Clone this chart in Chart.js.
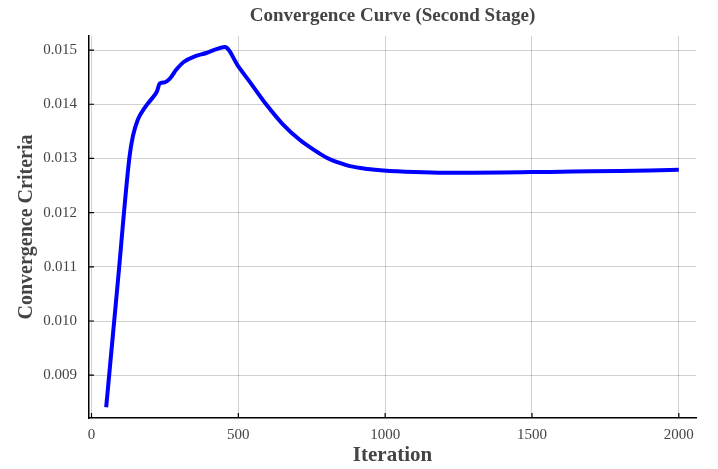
<!DOCTYPE html>
<html>
<head>
<meta charset="utf-8">
<script src="https://cdn.jsdelivr.net/npm/chart.js@4/dist/chart.umd.min.js"></script>
<style>
  html, body { margin: 0; padding: 0; background: #fff; }
  #wrap { width: 718px; height: 469px; }
</style>
</head>
<body>
<div id="wrap"><canvas id="grafico"></canvas></div>
<script>
// dados
const iteracoes = [50, 90, 129, 141, 158, 181, 203, 223, 232, 249, 266, 289, 314, 352, 391, 420, 454,
  500, 550, 596, 650, 710, 760, 801, 840, 880, 940, 994, 1100, 1200, 1300, 1400, 1500, 1600, 1700, 1800, 1900, 2000];
const criterio = [0.008409, 0.010740, 0.013013, 0.013411, 0.013718, 0.013934, 0.014087, 0.014239,
  0.014381, 0.014405, 0.014468, 0.014640, 0.014780, 0.014884, 0.014946, 0.015007, 0.015057,
  0.014700, 0.014331, 0.013990, 0.013640, 0.013340, 0.013150, 0.013013, 0.012926, 0.012858, 0.012807, 0.012779,
  0.012750, 0.012737, 0.012737, 0.012740, 0.012748, 0.012755, 0.012762, 0.012770, 0.012780, 0.012792];
const ticksX = [0, 500, 1000, 1500, 2000];
const ticksY = [0.009, 0.010, 0.011, 0.012, 0.013, 0.014, 0.015];

const titulo = "Convergence Curve (Second Stage)";
const fonte = "'Liberation Serif', 'Times New Roman', serif";
const cinza = "#444";

// título centrado na área do gráfico + marcas de escala para dentro
const extras = {
  id: "extras",
  afterDraw(chart) {
    const { ctx, chartArea: a, scales: { x, y } } = chart;
    ctx.save();
    ctx.fillStyle = cinza;
    ctx.font = `bold 19px ${fonte}`;
    ctx.textAlign = "center";
    ctx.textBaseline = "middle";
    ctx.fillText(titulo, (a.left + a.right) / 2, 16);
    ctx.strokeStyle = "#000";
    ctx.lineWidth = 1.2;
    ctx.beginPath();
    ticksX.forEach(v => { const p = x.getPixelForValue(v); ctx.moveTo(p, a.bottom); ctx.lineTo(p, a.bottom - 5); });
    ticksY.forEach(v => { const p = y.getPixelForValue(v); ctx.moveTo(a.left, p); ctx.lineTo(a.left + 5, p); });
    ctx.stroke();
    ctx.restore();
  }
};

new Chart(document.getElementById("grafico"), {
  type: "line",
  data: {
    datasets: [{
      data: iteracoes.map((it, i) => ({ x: it, y: criterio[i] })),
      borderColor: "#0000ff",
      borderWidth: 4,
      pointRadius: 0,
      cubicInterpolationMode: "monotone",
      fill: false,
    }]
  },
  options: {
    responsive: true,
    maintainAspectRatio: false,
    animation: false,
    layout: { padding: { top: 36, right: 22, bottom: 0, left: 0 } },
    plugins: { legend: { display: false }, tooltip: { enabled: false }, title: { display: false } },
    scales: {
      x: {
        type: "linear",
        min: -8.5,
        max: 2058.5,
        afterBuildTicks: (s) => { s.ticks = ticksX.map(v => ({ value: v })); },
        afterFit: (s) => { s.height = 51; },
        grid: { color: "rgba(0,0,0,0.18)", lineWidth: 1, drawTicks: false },
        border: { display: true, color: "#000", width: 1.5 },
        ticks: { color: cinza, padding: 8, maxRotation: 0, font: { family: fonte, size: 15 }, callback: (v) => String(v) },
        title: { display: true, text: "Iteration", color: cinza, font: { family: fonte, size: 21, weight: "bold" }, padding: { top: 3, bottom: 1 } }
      },
      y: {
        type: "linear",
        min: 0.00821,
        max: 0.01526,
        afterBuildTicks: (s) => { s.ticks = ticksY.map(v => ({ value: v })); },
        afterFit: (s) => { s.width = 89; },
        grid: { color: "rgba(0,0,0,0.18)", lineWidth: 1, drawTicks: false },
        border: { display: true, color: "#000", width: 1.5 },
        ticks: { color: cinza, padding: 12, font: { family: fonte, size: 15 }, callback: (v) => v.toFixed(3) },
        title: { display: true, text: "Convergence Criteria", color: cinza, font: { family: fonte, size: 20, weight: "bold" }, padding: { top: 15, bottom: 0 } }
      }
    }
  },
  plugins: [extras]
});
</script>
</body>
</html>
